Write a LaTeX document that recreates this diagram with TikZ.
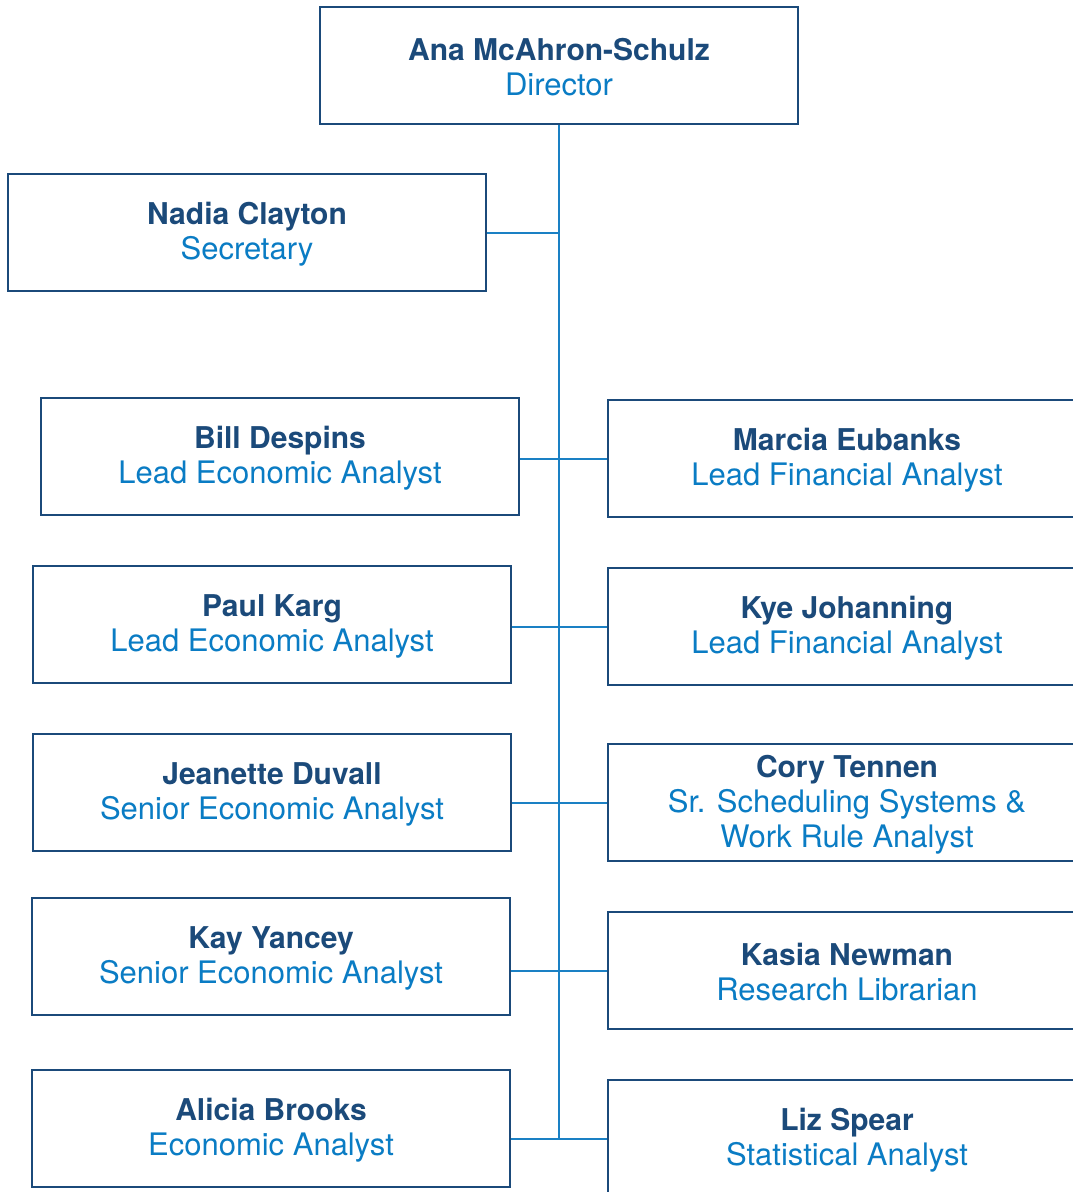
\documentclass[tikz,border=0pt]{standalone}
\usepackage{fontspec}
\setmainfont{TeX Gyre Heros}
\usetikzlibrary{positioning}
\definecolor{namecol}{HTML}{1B4A7A}
\definecolor{rolecol}{HTML}{0A7CC4}
\definecolor{linkcol}{HTML}{1A80C4}
\newcommand{\person}[2]{{\fontsize{30}{35}\selectfont\bfseries\color{namecol}\rule{0pt}{26pt}#1}\\#2}
\begin{document}
\begin{tikzpicture}[x=1pt,y=-1pt,
        staffbox/.style={draw=namecol,line width=2.2pt,fill=white,minimum width=478pt,minimum height=117pt,
            align=center,inner sep=0pt,text=rolecol,font=\fontsize{31}{35}\selectfont},
        link/.style={draw=linkcol,line width=2pt}]
        \useasboundingbox (0,0) rectangle (1073,1192);
        \clip (0,0) rectangle (1073,1192);

        \node[staffbox] (director) at (559,65.5) {\person{Ana McAhron-Schulz}{Director}};
        \node[staffbox] (secretary) at (247,232.5) {\person{Nadia Clayton}{Secretary}};

        \node[staffbox] (bill) at (280,456.5) {\person{Bill Despins}{Lead Economic Analyst}};
        \node[staffbox] (paul) at (272,624.5) {\person{Paul Karg}{Lead Economic Analyst}};
        \node[staffbox] (jeanette) at (272,792.5) {\person{Jeanette Duvall}{Senior Economic Analyst}};
        \node[staffbox] (kay) at (271,956.5) {\person{Kay Yancey}{Senior Economic Analyst}};
        \node[staffbox] (alicia) at (271,1128.5) {\person{Alicia Brooks}{Economic Analyst}};

        \node[staffbox] (marcia) at (847,458.5) {\person{Marcia Eubanks}{Lead Financial Analyst}};
        \node[staffbox] (kye) at (847,626.5) {\person{Kye Johanning}{Lead Financial Analyst}};
        \node[staffbox] (cory) at (847,802.5) {\person{Cory Tennen}{Sr. Scheduling Systems \&\\Work Rule Analyst}};
        \node[staffbox] (kasia) at (847,970.5) {\person{Kasia Newman}{Research Librarian}};
        \node[staffbox] (liz) at (847,1138.5) {\person{Liz Spear}{Statistical Analyst}};

        \draw[link] (director.south) -- (director.south |- liz.west);
        \draw[link] (secretary.east) -- (secretary.east -| director.south);
        \draw[link] (marcia.west) -- (marcia.west -| bill.east);
        \draw[link] (kye.west) -- (kye.west -| paul.east);
        \draw[link] (cory.west) -- (cory.west -| jeanette.east);
        \draw[link] (kasia.west) -- (kasia.west -| kay.east);
        \draw[link] (liz.west) -- (liz.west -| alicia.east);

\end{tikzpicture}
\end{document}
